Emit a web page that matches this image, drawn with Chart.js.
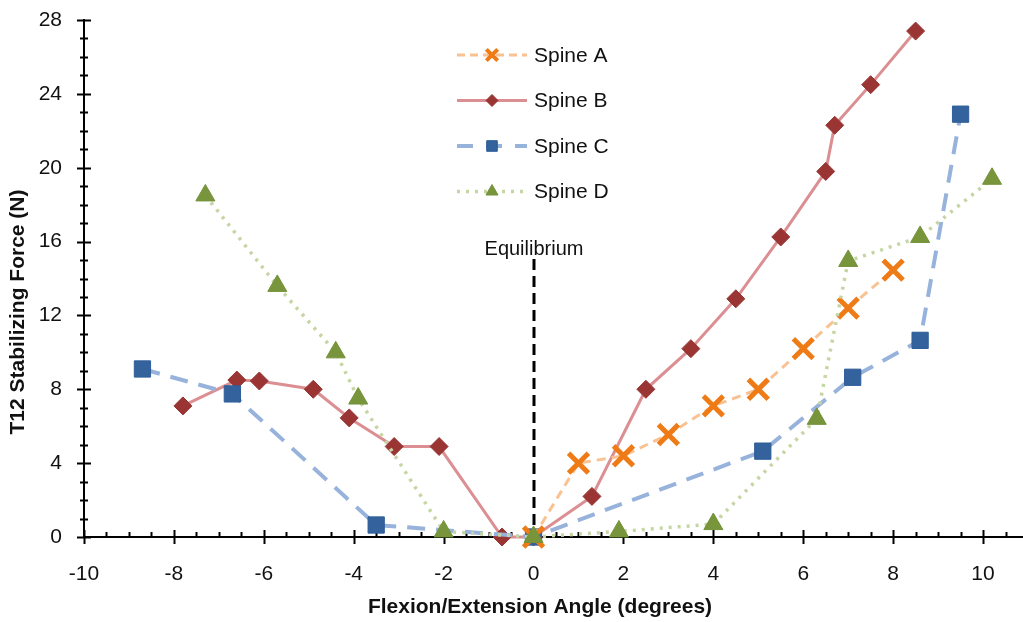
<!DOCTYPE html>
<html>
<head>
<meta charset="utf-8">
<title>T12 Stabilizing Force</title>
<script src="https://cdn.jsdelivr.net/npm/chart.js@4.4.1/dist/chart.umd.min.js"></script>
<style>
  html, body { margin: 0; padding: 0; background: #fff; overflow: hidden; }
  canvas { display: block; }
</style>
</head>
<body>
<canvas id="chart" width="1030" height="622"></canvas>
<script>
// Values
const spineA_x = [0, 1, 2, 3, 4, 5, 6, 7, 8];
const spineA_y = [0, 4.0, 4.4, 5.55, 7.1, 8.0, 10.2, 12.4, 14.45];

const spineB_x = [-7.8, -6.6, -6.1, -4.9, -4.1, -3.1, -2.1, -0.7, 0, 1.3, 2.5, 3.5, 4.5, 5.5, 6.5, 6.7, 7.5, 8.5];
const spineB_y = [7.1, 8.5, 8.45, 8.0, 6.45, 4.9, 4.9, 0, 0, 2.2, 8.0, 10.2, 12.9, 16.25, 19.8, 22.3, 24.5, 27.4];

const spineC_x = [-8.7, -6.7, -3.5, 0, 5.1, 7.1, 8.6, 9.5];
const spineC_y = [9.1, 7.75, 0.65, 0, 4.65, 8.65, 10.65, 22.9];

const spineD_x = [-7.3, -5.7, -4.4, -3.9, -2.0, 0, 1.9, 4.0, 6.3, 7.0, 8.6, 10.2];
const spineD_y = [18.5, 13.6, 10.0, 7.5, 0.3, 0, 0.3, 0.7, 6.4, 14.95, 16.25, 19.4];

const xTicks = [-10, -8, -6, -4, -2, 0, 2, 4, 6, 8, 10];
const yTicks = [0, 4, 8, 12, 16, 20, 24, 28];

const equilibriumX = 0;
const equilibriumLabel = 'Equilibrium';
const xTitle = 'Flexion/Extension Angle (degrees)';
const yTitle = 'T12 Stabilizing Force (N)';

const FONT = '"Liberation Sans", Arial, sans-serif';

function points(xs, ys) {
    return xs.map((x, i) => ({ x: x, y: ys[i] }));
}

// minor/major tick marks, equilibrium line, axis titles
const decorPlugin = {
    id: 'decor',
    beforeDatasetsDraw(chart) {
        const ctx = chart.ctx;
        const xs = chart.scales.x;
        const ys = chart.scales.y;
        const area = chart.chartArea;
        ctx.save();
        ctx.strokeStyle = '#000';
        ctx.lineWidth = 2;
        ctx.beginPath();
        for (let v = xs.min; v <= xs.max + 1e-9; v += 0.5) {
            const px = Math.round(xs.getPixelForValue(v)) + 0.5;
            const major = Math.abs(v % 2) < 1e-9;
            if (major) {
                ctx.moveTo(px, area.bottom - 7);
                ctx.lineTo(px, area.bottom + 7);
            } else {
                ctx.moveTo(px, area.bottom - 5);
                ctx.lineTo(px, area.bottom);
            }
        }
        for (let v = ys.min; v <= ys.max + 1e-9; v += 1) {
            const py = Math.round(ys.getPixelForValue(v)) + 0.5;
            const len = (v % 4 === 0) ? 7 : 4;
            ctx.moveTo(area.left - len, py);
            ctx.lineTo(area.left + len, py);
        }
        ctx.stroke();

        // equilibrium marker
        const ex = Math.round(xs.getPixelForValue(equilibriumX));
        ctx.lineWidth = 3;
        ctx.setLineDash([11, 6]);
        ctx.beginPath();
        ctx.moveTo(ex, 259);
        ctx.lineTo(ex, area.bottom);
        ctx.stroke();
        ctx.setLineDash([]);
        ctx.fillStyle = '#111';
        ctx.font = '20px ' + FONT;
        ctx.textAlign = 'center';
        ctx.textBaseline = 'alphabetic';
        ctx.fillText(equilibriumLabel, ex, 255);

        // axis titles
        ctx.font = 'bold 21px ' + FONT;
        ctx.textBaseline = 'middle';
        ctx.fillText(xTitle, 540, 607);
        ctx.translate(18, 312);
        ctx.rotate(-Math.PI / 2);
        ctx.fillText(yTitle, 0, 0);
        ctx.restore();
    }
};

// floating legend: line sample + marker + name
const legendPlugin = {
    id: 'floatLegend',
    afterDraw(chart) {
        const ctx = chart.ctx;
        chart.data.datasets.forEach((ds, row) => {
            const y = 55 + row * 45.5;
            ctx.save();
            ctx.strokeStyle = ds.borderColor;
            ctx.lineWidth = ds.borderWidth;
            ctx.setLineDash(ds.legendDash || []);
            ctx.beginPath();
            ctx.moveTo(457, y);
            ctx.lineTo(527, y);
            ctx.stroke();
            ctx.setLineDash([]);
            ctx.fillStyle = ds.pointBackgroundColor;
            ctx.strokeStyle = ds.pointBorderColor;
            ctx.lineWidth = ds.legendMarker.borderWidth;
            Chart.helpers.drawPoint(ctx, {
                pointStyle: ds.pointStyle,
                radius: ds.legendMarker.radius,
                borderWidth: ds.legendMarker.borderWidth,
                rotation: 0
            }, 492, y);
            ctx.fillStyle = '#111';
            ctx.font = '21px ' + FONT;
            ctx.textAlign = 'left';
            ctx.textBaseline = 'middle';
            ctx.fillText(ds.label, 534, y + 1);
            ctx.restore();
        });
    }
};

new Chart(document.getElementById('chart'), {
    type: 'scatter',
    data: {
        datasets: [
            {
                label: 'Spine A',
                data: points(spineA_x, spineA_y),
                showLine: true,
                clip: false,
                borderColor: '#F9C293',
                borderWidth: 3,
                borderDash: [9, 6],
                legendDash: [8, 5],
                pointStyle: 'crossRot',
                pointRadius: 14,
                pointBorderWidth: 5,
                pointBorderColor: '#EF7B17',
                pointBackgroundColor: '#EF7B17',
                legendMarker: { radius: 8, borderWidth: 4 },
                order: 2
            },
            {
                label: 'Spine B',
                data: points(spineB_x, spineB_y),
                showLine: true,
                clip: false,
                borderColor: '#DC8F92',
                borderWidth: 3,
                pointStyle: 'rectRot',
                pointRadius: 9,
                pointBorderWidth: 1,
                pointBorderColor: '#943634',
                pointBackgroundColor: '#9A3533',
                legendMarker: { radius: 6, borderWidth: 1 },
                order: 4
            },
            {
                label: 'Spine C',
                data: points(spineC_x, spineC_y),
                showLine: true,
                clip: false,
                borderColor: '#98B3DB',
                borderWidth: 4,
                borderDash: [18, 11],
                legendDash: [16, 13],
                pointStyle: 'rect',
                pointRadius: 11.5,
                pointBorderWidth: 1,
                pointBorderColor: '#2F5E98',
                pointBackgroundColor: '#33629C',
                legendMarker: { radius: 7.5, borderWidth: 1 },
                order: 3
            },
            {
                label: 'Spine D',
                data: points(spineD_x, spineD_y),
                showLine: true,
                clip: false,
                borderColor: '#C5D6A4',
                borderWidth: 3.5,
                borderDash: [3, 6],
                legendDash: [3, 6],
                pointStyle: 'triangle',
                pointRadius: 11,
                pointBorderWidth: 1,
                pointBorderColor: '#74923A',
                pointBackgroundColor: '#78953C',
                legendMarker: { radius: 7, borderWidth: 1 },
                order: 1
            }
        ]
    },
    options: {
        responsive: false,
        devicePixelRatio: 1,
        animation: false,
        layout: { autoPadding: false, padding: { top: 20, right: 2, left: 0, bottom: 0 } },
        plugins: {
            legend: { display: false },
            tooltip: { enabled: false }
        },
        elements: { line: { tension: 0 } },
        scales: {
            x: {
                type: 'linear',
                min: -10,
                max: 11,
                afterBuildTicks: (scale) => { scale.ticks = xTicks.map(v => ({ value: v })); },
                afterFit: (scale) => {
                    scale.height = 85;
                    scale.paddingLeft = 0;
                    scale.paddingRight = 0;
                },
                grid: { display: false, drawTicks: false },
                border: { display: true, color: '#000', width: 2 },
                ticks: {
                    padding: 25,
                    color: '#111',
                    font: { family: FONT, size: 21 }
                }
            },
            y: {
                type: 'linear',
                min: 0,
                max: 28,
                afterBuildTicks: (scale) => { scale.ticks = yTicks.map(v => ({ value: v })); },
                afterFit: (scale) => {
                    scale.width = 84;
                    scale.paddingTop = 0;
                    scale.paddingBottom = 0;
                },
                grid: { display: false, drawTicks: false },
                border: { display: true, color: '#000', width: 2 },
                ticks: {
                    padding: 22,
                    color: '#111',
                    font: { family: FONT, size: 21 }
                }
            }
        }
    },
    plugins: [decorPlugin, legendPlugin]
});
</script>
</body>
</html>
